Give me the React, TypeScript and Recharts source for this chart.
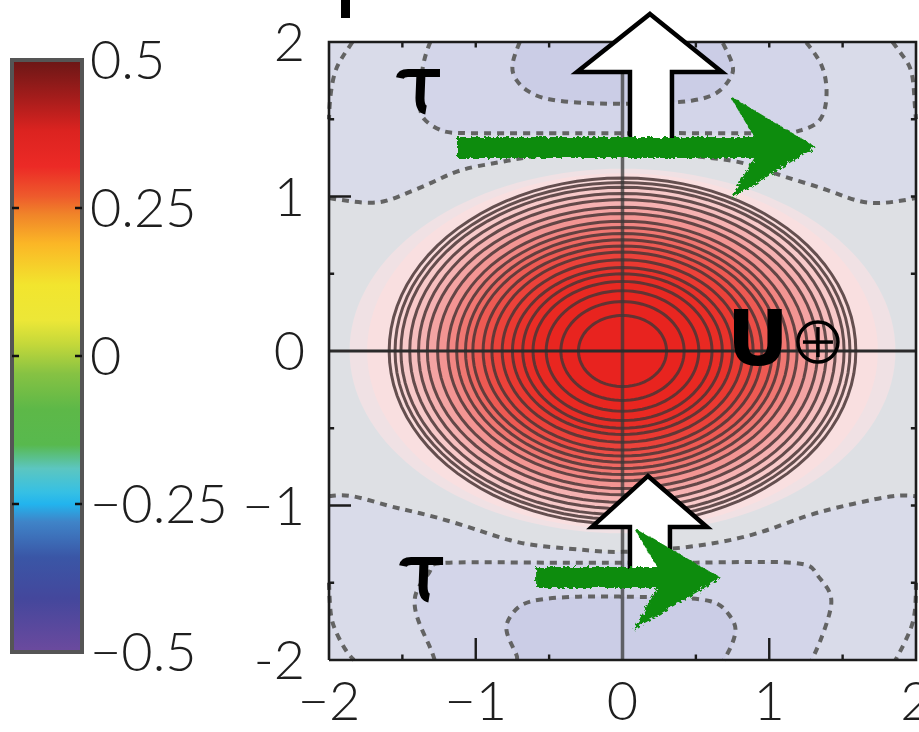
import React from "react";
import { ComposedChart, Area, Line, Scatter, Bar, XAxis, YAxis, ReferenceLine } from "recharts";

// axes
const xTicks = [-2, -1, 0, 1, 2];
const xTickLabels = ["−2", "−1", "0", "1", "2"];
const yTicks = [-2, -1, 0, 1, 2];
const yTickLabels = ["-2", "−1", "0", "1", "2"];
const cbTicks = [-0.5, -0.25, 0, 0.25, 0.5];
const cbTickLabels = ["−0.5", "−0.25", "0", "0.25", "0.5"];
const cbData = [{ name: "cb", r: [-0.5, 0.5] }];

// solid contour rings around the positive lobe (semi-axes, inner to outer)
const ringRx = [0.3, 0.42, 0.52, 0.61, 0.68, 0.75, 0.82, 0.89, 0.95, 1.02, 1.07, 1.13, 1.19, 1.26, 1.33, 1.39, 1.45, 1.51, 1.55, 1.59];
const ringRy = [0.23, 0.32, 0.39, 0.45, 0.5, 0.54, 0.59, 0.64, 0.68, 0.72, 0.76, 0.8, 0.84, 0.89, 0.93, 0.98, 1.02, 1.06, 1.09, 1.12];
const glowRx = [1.86, 1.74];
const glowRy = [1.18, 1.15];

// dashed contours (negative lobes)
const topArch = [
  { x: -2, y: 0.99 }, { x: -1.7, y: 0.96 }, { x: -1.5, y: 1.01 }, { x: -1.3, y: 1.09 }, { x: -1.1, y: 1.17 },
  { x: -0.85, y: 1.22 }, { x: -0.6, y: 1.26 }, { x: -0.3, y: 1.28 }, { x: 0, y: 1.29 }, { x: 0.3, y: 1.28 },
  { x: 0.6, y: 1.25 }, { x: 0.85, y: 1.21 }, { x: 1.1, y: 1.13 }, { x: 1.4, y: 1.04 }, { x: 1.68, y: 0.96 }, { x: 2, y: 0.99 },
];
const topU = [
  { x: -1.31, y: 2.0 }, { x: -1.36, y: 1.84 }, { x: -1.38, y: 1.62 }, { x: -1.35, y: 1.5 }, { x: -1.24, y: 1.43 },
  { x: -1.05, y: 1.41 }, { x: -0.5, y: 1.41 }, { x: 0, y: 1.41 }, { x: 0.5, y: 1.41 }, { x: 1.05, y: 1.41 },
  { x: 1.22, y: 1.43 }, { x: 1.34, y: 1.49 }, { x: 1.39, y: 1.65 }, { x: 1.36, y: 1.84 }, { x: 1.25, y: 2.0 },
];
const topInner = [
  { x: -0.7, y: 2.0 }, { x: -0.75, y: 1.85 }, { x: -0.72, y: 1.75 }, { x: -0.64, y: 1.68 }, { x: -0.5, y: 1.63 },
  { x: -0.25, y: 1.605 }, { x: 0, y: 1.6 }, { x: 0.25, y: 1.605 }, { x: 0.47, y: 1.62 }, { x: 0.64, y: 1.67 },
  { x: 0.73, y: 1.76 }, { x: 0.75, y: 1.85 }, { x: 0.68, y: 2.0 },
];
const topLeftCorner = [{ x: -1.84, y: 2.0 }, { x: -1.91, y: 1.9 }, { x: -1.96, y: 1.8 }, { x: -1.99, y: 1.65 }, { x: -2.0, y: 1.5 }];
const topRightCorner = [{ x: 1.84, y: 2.0 }, { x: 1.91, y: 1.91 }, { x: 1.97, y: 1.8 }, { x: 1.99, y: 1.62 }, { x: 2.0, y: 1.5 }];

const bottomArch = [
  { x: -2, y: -0.94 }, { x: -1.84, y: -0.94 }, { x: -1.6, y: -1.0 }, { x: -1.38, y: -1.05 }, { x: -1.15, y: -1.11 },
  { x: -0.92, y: -1.18 }, { x: -0.7, y: -1.24 }, { x: -0.47, y: -1.27 }, { x: -0.24, y: -1.29 }, { x: 0, y: -1.3 },
  { x: 0.43, y: -1.27 }, { x: 0.88, y: -1.19 }, { x: 1.25, y: -1.07 }, { x: 1.57, y: -0.99 }, { x: 1.84, y: -0.94 }, { x: 2, y: -0.94 },
];
const bottomU = [
  { x: -1.28, y: -2.0 }, { x: -1.32, y: -1.9 }, { x: -1.4, y: -1.72 }, { x: -1.4, y: -1.55 }, { x: -1.31, y: -1.42 },
  { x: -1.18, y: -1.37 }, { x: -0.5, y: -1.37 }, { x: 0, y: -1.37 }, { x: 0.5, y: -1.37 }, { x: 1.15, y: -1.37 },
  { x: 1.32, y: -1.44 }, { x: 1.41, y: -1.56 }, { x: 1.41, y: -1.7 }, { x: 1.35, y: -1.87 }, { x: 1.29, y: -2.0 },
];
const bottomInner = [
  { x: -0.72, y: -2.0 }, { x: -0.73, y: -1.95 }, { x: -0.79, y: -1.81 }, { x: -0.75, y: -1.7 }, { x: -0.62, y: -1.62 },
  { x: -0.3, y: -1.59 }, { x: 0, y: -1.59 }, { x: 0.3, y: -1.595 }, { x: 0.6, y: -1.62 }, { x: 0.72, y: -1.7 },
  { x: 0.77, y: -1.81 }, { x: 0.72, y: -1.95 }, { x: 0.69, y: -2.0 },
];
const bottomLeftCorner = [{ x: -2.0, y: -1.5 }, { x: -1.99, y: -1.68 }, { x: -1.96, y: -1.8 }, { x: -1.89, y: -1.93 }, { x: -1.83, y: -2.0 }];
const bottomRightCorner = [{ x: 2.0, y: -1.5 }, { x: 1.99, y: -1.7 }, { x: 1.95, y: -1.83 }, { x: 1.9, y: -1.93 }, { x: 1.86, y: -2.0 }];

// frame ticks
const majorX = [-1, 1];
const minorX = [-1.5, -0.5, 0.5, 1.5];
const majorY = [-1, 1];
const minorY = [-1.5, -0.5, 0.5, 1.5];

// styles
const RING_FILLS = [
  "#e8231f", "#e8241f", "#e92620", "#e92922", "#ea2d26", "#ea322b", "#eb3931", "#ec423a", "#ed4d46", "#ee5a53",
  "#ef6862", "#f07772", "#f28683", "#f39593", "#f4a4a3", "#f6b2b2", "#f7bfbf", "#f8caca", "#f9d4d4", "#fadcdc",
];
const GLOW_FILLS = ["#f0e1e4", "#f9dfe0"];
const BG = "#dee0e4";
const DASH = { stroke: "#636363", strokeWidth: 4, strokeDasharray: "7 6" };
const FONT = { fontSize: 54, fill: "#1e1e1e", fontFamily: "Lato, 'Open Sans', sans-serif", fontWeight: 300 };

const ellipseLoop = (rx: number, ry: number, n = 96) =>
  Array.from({ length: n + 1 }, (_, i) => {
    const t = (i / n) * 2 * Math.PI;
    return { x: rx * Math.cos(t), y: ry * Math.sin(t) };
  });
const ellipseBand = (rx: number, ry: number, n = 72) =>
  Array.from({ length: n + 1 }, (_, i) => {
    const t = Math.PI - (i / n) * Math.PI;
    const h = ry * Math.sin(t);
    return { x: rx * Math.cos(t), r: [-h, h] };
  });
const above = (pts: { x: number; y: number }[]) => pts.map((p) => ({ x: p.x, r: [p.y, 2] }));
const below = (pts: { x: number; y: number }[]) => pts.map((p) => ({ x: p.x, r: [-2, p.y] }));

const tickData: { x: number; y: number | null }[] = [];
const seg = (x1: number, y1: number, x2: number, y2: number) => {
  tickData.push({ x: x1, y: y1 }, { x: x2, y: y2 }, { x: x2, y: null });
};
majorX.forEach((v) => { seg(v, -2, v, -1.858); seg(v, 2, v, 1.965); });
minorX.forEach((v) => { seg(v, -2, v, -1.965); seg(v, 2, v, 1.965); });
majorY.forEach((v) => { seg(-2, v, -1.85, v); seg(2, v, 1.965, v); });
minorY.forEach((v) => { seg(-2, v, -1.965, v); seg(2, v, 1.965, v); });

const frame = [{ x: -2, y: -2 }, { x: -2, y: 2 }, { x: 2, y: 2 }, { x: 2, y: -2 }, { x: -2, y: -2 }];

const poly = (cx: number, cy: number, pts: number[][]) => pts.map(([dx, dy]) => `${cx + dx},${cy + dy}`).join(" ");

const WhiteArrow = (pts: number[][]) => (p: any) => (
  <polygon points={poly(p.cx, p.cy, pts)} fill="#fff" stroke="#000" strokeWidth={4.5} strokeLinejoin="miter" />
);
const GreenArrow = (id: string, pts: number[][]) => (p: any) => (
  <g>
    <defs>
      <filter id={id} x="-10%" y="-30%" width="120%" height="160%">
        <feTurbulence type="fractalNoise" baseFrequency="0.3" numOctaves={2} seed={3} result="n" />
        <feDisplacementMap in="SourceGraphic" in2="n" scale={6} />
      </filter>
    </defs>
    <polygon points={poly(p.cx, p.cy, pts)} fill="#0e8c10" stroke="#0e8c10" strokeWidth={2} filter={`url(#${id})`} />
  </g>
);
// tau glyph drawn as strokes, anchored at its baseline centre
const Tau = (p: any) => (
  <g fill="none" stroke="#000" strokeLinecap="butt">
    <path d={`M ${p.cx - 20} ${p.cy - 34} Q ${p.cx - 19} ${p.cy - 39} ${p.cx - 12} ${p.cy - 39} L ${p.cx + 20} ${p.cy - 39}`} strokeWidth={8} />
    <path d={`M ${p.cx + 1} ${p.cy - 39} L ${p.cx} ${p.cy - 14} Q ${p.cx} ${p.cy - 3} ${p.cx + 6} ${p.cy - 2}`} strokeWidth={9} />
  </g>
);
const UPlus = (p: any) => (
  <g>
    <text x={p.cx} y={p.cy} textAnchor="middle" fontSize={76} fontWeight={700} fontFamily="'DejaVu Sans', sans-serif" fill="#000">U</text>
    <circle cx={p.cx + 60} cy={p.cy - 23} r={20} fill="none" stroke="#000" strokeWidth={3.5} />
    <line x1={p.cx + 45} y1={p.cy - 23} x2={p.cx + 75} y2={p.cy - 23} stroke="#000" strokeWidth={3.5} />
    <line x1={p.cx + 60} y1={p.cy - 38} x2={p.cx + 60} y2={p.cy - 8} stroke="#000" strokeWidth={3.5} />
  </g>
);
const CutMark = (p: any) => <rect x={p.cx + 12} y={p.cy - 42} width={9} height={18} fill="#000" />;

const ColorbarShape = (p: any) => (
  <g>
    <defs>
      <linearGradient id="cbGrad" x1="0" y1="0" x2="0" y2="1">
        <stop offset="0%" stopColor="#6a1716" />
        <stop offset="6%" stopColor="#a11c1b" />
        <stop offset="12%" stopColor="#dc2320" />
        <stop offset="18%" stopColor="#ec2a26" />
        <stop offset="23%" stopColor="#ee5a2c" />
        <stop offset="26%" stopColor="#f08329" />
        <stop offset="31%" stopColor="#fbb626" />
        <stop offset="38%" stopColor="#f2e52e" />
        <stop offset="44%" stopColor="#ece737" />
        <stop offset="48%" stopColor="#c4d83a" />
        <stop offset="53%" stopColor="#86c243" />
        <stop offset="59%" stopColor="#5db848" />
        <stop offset="65%" stopColor="#58b94e" />
        <stop offset="69%" stopColor="#5cc6c0" />
        <stop offset="73%" stopColor="#36c0e4" />
        <stop offset="75%" stopColor="#22b4ee" />
        <stop offset="78%" stopColor="#3f84c8" />
        <stop offset="84%" stopColor="#3a56a6" />
        <stop offset="91%" stopColor="#44479c" />
        <stop offset="100%" stopColor="#6c4a9e" />
      </linearGradient>
    </defs>
    <rect x={p.x} y={p.y} width={p.width} height={p.height} fill="url(#cbGrad)" stroke="#555" strokeWidth={4} />
  </g>
);

const noDot = { dot: false, activeDot: false, isAnimationActive: false } as const;

export default function App() {
  return (
    <div style={{ position: "absolute", left: 0, top: 0, width: 919, height: 732, background: "#fff" }}>
      <div style={{ position: "absolute", left: 0, top: 0 }}>
        <ComposedChart width={260} height={732} data={cbData} margin={{ top: 60, right: 0, bottom: 80, left: 12 }} barCategoryGap={0}>
          <XAxis dataKey="name" type="category" hide />
          <YAxis
            orientation="right"
            type="number"
            domain={[-0.5, 0.5]}
            ticks={cbTicks}
            width={178}
            axisLine={false}
            tickLine={false}
            tickSize={0}
            tickMargin={8}
            interval={0}
            tick={FONT}
            tickFormatter={(v: number) => cbTickLabels[cbTicks.indexOf(v)]}
          />
          <Bar dataKey="r" isAnimationActive={false} shape={ColorbarShape} />
          {[0.25, 0, -0.25].map((v) => (
            <ReferenceLine key={v} y={v} stroke="#111" strokeWidth={2.5} strokeDasharray="7 56 7" />
          ))}
        </ComposedChart>
      </div>
      <div style={{ position: "absolute", left: 0, top: 0 }}>
        <ComposedChart width={919} height={732} margin={{ top: 42, right: 3, bottom: 0, left: 249 }}>
          <XAxis
            type="number"
            dataKey="x"
            domain={[-2, 2]}
            ticks={xTicks}
            interval={0}
            height={72}
            axisLine={false}
            tickLine={false}
            tickSize={0}
            tickMargin={22}
            tick={FONT}
            tickFormatter={(v: number) => xTickLabels[xTicks.indexOf(v)]}
          />
          <YAxis
            type="number"
            dataKey="y"
            domain={[-2, 2]}
            ticks={yTicks}
            interval={0}
            width={80}
            axisLine={false}
            tickLine={false}
            tickSize={0}
            tickMargin={24}
            tick={FONT}
            tickFormatter={(v: number) => yTickLabels[yTicks.indexOf(v)]}
          />

          {/* background field */}
          <Area data={[{ x: -2, r: [-2, 2] }, { x: 2, r: [-2, 2] }]} dataKey="r" type="linear" fill={BG} fillOpacity={1} stroke="none" isAnimationActive={false} />
          <Area data={above(topArch)} dataKey="r" type="natural" fill="#d9dbe9" fillOpacity={1} stroke="none" isAnimationActive={false} />
          <Area data={above(topU)} dataKey="r" type="natural" fill="#d3d5e9" fillOpacity={1} stroke="none" isAnimationActive={false} />
          <Area data={above(topInner)} dataKey="r" type="natural" fill="#cbcde6" fillOpacity={1} stroke="none" isAnimationActive={false} />
          <Area data={below(bottomArch)} dataKey="r" type="natural" fill="#d9dbe9" fillOpacity={1} stroke="none" isAnimationActive={false} />
          <Area data={below(bottomU)} dataKey="r" type="natural" fill="#d3d5e9" fillOpacity={1} stroke="none" isAnimationActive={false} />
          <Area data={below(bottomInner)} dataKey="r" type="natural" fill="#cbcde6" fillOpacity={1} stroke="none" isAnimationActive={false} />

          {/* positive lobe */}
          {glowRx.map((rx, i) => (
            <Area key={`g${i}`} data={ellipseBand(rx, glowRy[i])} dataKey="r" type="linear" fill={GLOW_FILLS[i]} fillOpacity={1} stroke="none" isAnimationActive={false} />
          ))}
          {ringRx
            .map((rx, i) => ({ rx, ry: ringRy[i], i }))
            .reverse()
            .map(({ rx, ry, i }) => (
              <Area key={`f${i}`} data={ellipseBand(rx, ry)} dataKey="r" type="linear" fill={RING_FILLS[i]} fillOpacity={1} stroke="none" isAnimationActive={false} />
            ))}
          {ringRx.map((rx, i) => (
            <Line key={`r${i}`} data={ellipseLoop(rx, ringRy[i])} dataKey="y" type="linear" stroke="#4a3636" strokeOpacity={0.85} strokeWidth={3} {...noDot} />
          ))}

          {/* dashed contours */}
          {[topArch, topU, topInner, topLeftCorner, topRightCorner, bottomArch, bottomU, bottomInner, bottomLeftCorner, bottomRightCorner].map((d, i) => (
            <Line key={`d${i}`} data={d} dataKey="y" type="natural" {...DASH} {...noDot} />
          ))}

          {/* axes cross, frame, ticks */}
          <Line data={[{ x: 0, y: -2 }, { x: 0, y: 2 }]} dataKey="y" type="linear" stroke="#3a3a3a" strokeOpacity={0.75} strokeWidth={3.5} {...noDot} />
          <Line data={[{ x: -2, y: 0 }, { x: 2, y: 0 }]} dataKey="y" type="linear" stroke="#2b2b2b" strokeWidth={2.8} {...noDot} />
          <Line data={frame} dataKey="y" type="linear" stroke="#1c1c1c" strokeWidth={2.6} {...noDot} />
          <Line data={tickData} dataKey="y" type="linear" stroke="#1c1c1c" strokeWidth={2.4} connectNulls={false} {...noDot} />

          {/* annotations */}
          <Scatter data={[{ x: 0.194, y: 1.314 }]} dataKey="y" isAnimationActive={false} shape={WhiteArrow([[-1, -134], [71, -76], [21, -76], [21, 0], [-21, 0], [-21, -76], [-74, -76]])} />
          <Scatter data={[{ x: 0.187, y: -1.469 }]} dataKey="y" isAnimationActive={false} shape={WhiteArrow([[-2, -102], [57, -51], [20, -51], [20, 0], [-20, 0], [-20, -51], [-58, -51]])} />
          <Scatter data={[{ x: 1.305, y: 1.32 }]} dataKey="y" isAnimationActive={false} shape={GreenArrow("roughTop", [[-356, -9], [-58, -9], [-82, -49], [0, 0], [-82, 50], [-58, 10], [-356, 10]])} />
          <Scatter data={[{ x: 0.658, y: -1.469 }]} dataKey="y" isAnimationActive={false} shape={GreenArrow("roughBottom", [[-182, -10], [-60, -10], [-83, -48], [0, 0], [-83, 49], [-60, 9], [-182, 9]])} />
          <Scatter data={[{ x: -1.38, y: 1.547 }, { x: -1.359, y: -1.612 }]} dataKey="y" isAnimationActive={false} shape={Tau} />
          <Scatter data={[{ x: 0.923, y: -0.091 }]} dataKey="y" isAnimationActive={false} shape={UPlus} />
          <Scatter data={[{ x: -2, y: 2 }]} dataKey="y" isAnimationActive={false} shape={CutMark} />
        </ComposedChart>
      </div>
    </div>
  );
}
